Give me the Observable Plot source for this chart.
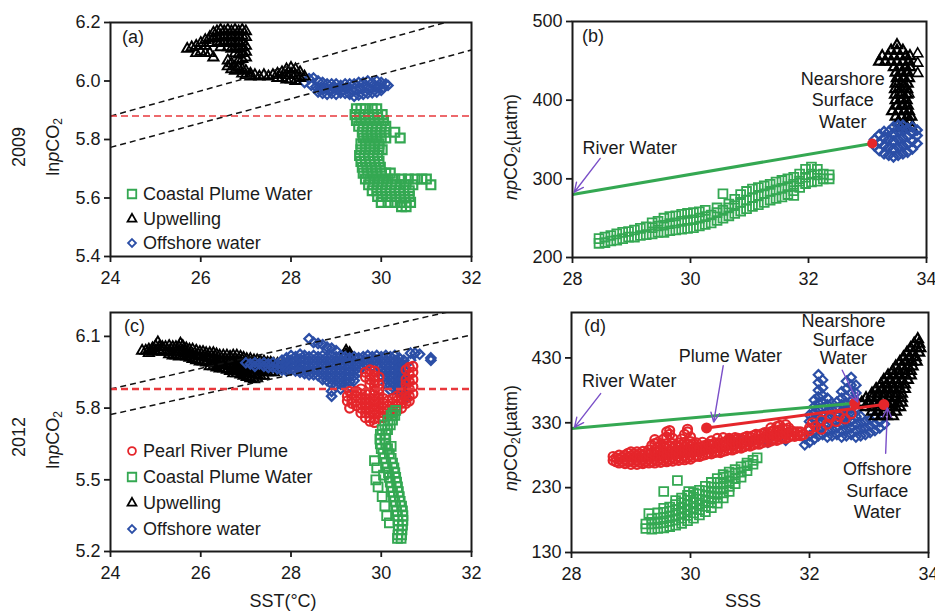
<!DOCTYPE html>
<html><head><meta charset="utf-8">
<script src="https://cdn.jsdelivr.net/npm/d3@7"></script>
<script src="https://cdn.jsdelivr.net/npm/@observablehq/plot@0.6"></script>
<style>
body{margin:0;background:#fff;}
#root{position:relative;width:935px;height:611px;overflow:hidden;font-family:"Liberation Sans",Arial,sans-serif;color:#1a1a1a;background:#fff;}
.lbl{position:absolute;white-space:nowrap;font-size:18px;line-height:1;}
.lbl sub{font-size:12px;vertical-align:-3px;line-height:0;}
.leg{position:absolute;display:flex;align-items:center;white-space:nowrap;font-size:18px;line-height:1;height:22px;}
.leg svg{margin-right:4px;}
</style></head><body><div id="root"></div>
<script>
// ---------------- data ----------------
const xTicksSST = [24, 26, 28, 30, 32];
const xTicksSSS = [28, 30, 32, 34];
const yTicksA = [5.4, 5.6, 5.8, 6.0, 6.2];
const yTicksB = [200, 300, 400, 500];
const yTicksC = [5.2, 5.5, 5.8, 6.1];
const yTicksD = [130, 230, 330, 430];

// Dense clouds are written as columns [x, [y...]] or rows [y, [x...]].
// panel (a) 2009: SST vs lnpCO2
const a_upwellingCols = [[25.7,[6.11]],[25.8,[6.115]],[25.9,[6.12,6.095]],[26.0,[6.13,6.1]],[26.1,[6.14,6.12,6.095]],[26.2,[6.15,6.13,6.095]],[26.28,[6.165,6.145,6.08]],[26.36,[6.17,6.15,6.13]],[26.44,[6.175,6.155,6.135,6.115]],[26.52,[6.17,6.15,6.13]],[26.6,[6.175,6.155,6.135,6.115,6.07,6.05]],[26.68,[6.17,6.15,6.13,6.11,6.06,6.04]],[26.76,[6.175,6.155,6.135,6.115,6.095,6.05,6.035]],[26.84,[6.17,6.15,6.13,6.11,6.09,6.07,6.045]],[26.92,[6.175,6.155,6.135,6.115,6.095,6.075,6.04,6.025]],[27.0,[6.17,6.15,6.12,6.1,6.08,6.035,6.02]],[27.1,[6.025,6.015]],[27.2,[6.02]],[27.3,[6.015]],[27.4,[6.02]],[27.5,[6.015]],[27.6,[6.02]],[27.7,[6.025,6.01]],[27.8,[6.03,6.01]],[27.9,[6.04,6.02,6.005]],[28.0,[6.045,6.025,6.005]],[28.1,[6.04,6.02,6.0]],[28.2,[6.03,6.01]],[28.3,[6.015]]];
const a_offshore = [[28.3,5.995],[28.4,6.008],[28.5,6.01],[28.6,6.0],[28.7,5.995],[28.8,5.99],[28.9,5.99],[29.0,5.99],[29.1,5.985],[29.2,5.99],[29.3,5.99],[29.4,5.99],[29.5,5.995],[29.6,5.995],[29.7,6.0],[29.8,5.995],[29.9,6.0],[30.0,5.995],[30.1,5.99],[30.15,5.985],[28.45,5.985],[28.55,5.98],[28.65,5.975],[28.75,5.975],[28.85,5.97],[28.95,5.975],[29.05,5.97],[29.15,5.97],[29.25,5.975],[29.35,5.97],[29.45,5.97],[29.55,5.975],[29.65,5.98],[29.75,5.975],[29.85,5.98],[29.95,5.98],[30.05,5.978],[28.6,5.962],[28.7,5.958],[28.8,5.955],[28.9,5.958],[29.0,5.955],[29.1,5.96],[29.2,5.958],[29.3,5.955],[29.4,5.948],[29.5,5.952],[29.6,5.955],[29.7,5.958],[29.8,5.96],[29.9,5.962],[30.0,5.968]];
const a_plumeRows = [[5.905,[29.45,29.55,29.65,29.8,29.9]],[5.885,[29.42,29.52,29.62,29.72,29.82,29.92,30.02]],[5.865,[29.45,29.55,29.65,29.75,29.85,29.95,30.05]],[5.845,[29.5,29.6,29.7,29.8,29.9,30.0,30.1]],[5.825,[29.58,29.68,29.78,29.88,29.98,30.08,30.3]],[5.805,[29.6,29.7,29.8,29.9,30.0,30.1,30.42]],[5.785,[29.55,29.65,29.75,29.85,29.95]],[5.765,[29.55,29.65,29.75,29.85,29.95,30.02]],[5.745,[29.52,29.62,29.72,29.82,29.92]],[5.725,[29.55,29.65,29.75,29.85,29.95]],[5.705,[29.58,29.68,29.78,29.88,29.98]],[5.685,[29.6,29.7,29.8,29.9,30.0,30.1,30.2]],[5.665,[29.65,29.75,29.85,29.95,30.05,30.15,30.3,30.45,30.6,30.75,30.9,31.0]],[5.645,[29.72,29.82,29.92,30.02,30.12,30.22,30.32,30.42,30.55,30.7,31.1]],[5.625,[29.8,29.9,30.0,30.1,30.2,30.3,30.4,30.5,30.62]],[5.605,[29.92,30.02,30.12,30.22,30.32,30.42,30.52,30.62]],[5.585,[30.0,30.15,30.3,30.42,30.55,30.65]],[5.57,[30.45,30.55]]];

// panel (b) 2009: SSS vs npCO2
const b_plumeCols = [[28.45,[218,224]],[28.55,[219,226]],[28.65,[221,228]],[28.75,[222,230]],[28.85,[224,232]],[28.95,[226,233]],[29.05,[226,235]],[29.15,[228,237]],[29.25,[229,239]],[29.35,[230,238,244]],[29.45,[232,240,246]],[29.55,[232,241,250]],[29.65,[234,243,252]],[29.75,[235,244,253]],[29.85,[236,246,255]],[29.95,[237,247,256]],[30.05,[238,248,257]],[30.15,[240,250,258]],[30.25,[242,252,260]],[30.35,[244,254]],[30.45,[247,257,263]],[30.55,[250,260,281]],[30.65,[253,263,268]],[30.75,[256,266,274]],[30.85,[259,270,280]],[30.95,[262,273,284]],[31.05,[265,276,287]],[31.15,[267,279,289]],[31.25,[270,281,291]],[31.35,[273,284,293]],[31.45,[275,286,296]],[31.55,[277,288,298]],[31.65,[280,290,300]],[31.75,[279,285,293,302]],[31.85,[289,297,306]],[31.95,[294,302,312]],[32.05,[296,306,315]],[32.15,[297,305,312]],[32.25,[300,306]],[32.35,[300,305]]];
const b_upwellingRows = [[470,[33.5]],[463,[33.4,33.5,33.6]],[456,[33.25,33.35,33.45,33.55,33.65,33.72]],[449,[33.2,33.3,33.4,33.5,33.6,33.7]],[442,[33.45,33.55,33.65,33.72]],[435,[33.48,33.58,33.68]],[428,[33.5,33.6,33.7]],[421,[33.48,33.58,33.68]],[414,[33.47,33.57,33.67]],[407,[33.47,33.57,33.67]],[400,[33.48,33.58,33.66]],[393,[33.5,33.6,33.68]],[386,[33.42,33.52,33.62,33.7]],[379,[33.48,33.58,33.68,33.74]],[372,[33.52,33.62,33.72]],[365,[33.55,33.65,33.75]]];
const b_upwellingOpen = [[33.85,459],[33.85,447],[33.85,434],[33.62,418],[33.7,408]];
const b_offshoreCols = [[33.12,[342,350]],[33.2,[336,346,356]],[33.28,[332,342,352,360]],[33.36,[330,340,350,360]],[33.44,[328,338,348,358,366]],[33.52,[330,340,350,360,368]],[33.6,[332,342,352,362,368]],[33.68,[334,344,354,364]],[33.76,[338,348,358,366]],[33.84,[345,355,362]]];
const b_endpoints = [[33.08,345]];
const b_mixLines = [{x1:28, y1:280, x2:33.08, y2:345, color:"green"}];
const b_arrows = [{x1:28.47, y1:326, x2:28.03, y2:283}];
const b_notes = [{x:28.97, y:341, text:"River Water"}, {x:32.58, y:401, text:"Nearshore\nSurface\nWater"}];

// panel (c) 2012: SST vs lnpCO2
const c_upwellingCols = [[24.7,[6.04]],[24.78,[6.04]],[24.85,[6.045,6.03]],[24.93,[6.05,6.035]],[25.0,[6.06,6.04]],[25.05,[6.075]],[25.08,[6.055,6.04]],[25.15,[6.055,6.035]],[25.22,[6.055,6.035]],[25.3,[6.06,6.04,6.025]],[25.38,[6.055,6.035,6.02]],[25.45,[6.055,6.035,6.02]],[25.52,[6.055,6.035,6.015]],[25.55,[6.07]],[25.6,[6.06,6.04,6.02]],[25.68,[6.05,6.03,6.015]],[25.75,[6.045,6.025,6.01]],[25.82,[6.045,6.025,6.005]],[25.9,[6.04,6.02,6.0]],[25.98,[6.035,6.015,5.995]],[26.05,[6.035,6.015,5.995]],[26.12,[6.03,6.01,5.99]],[26.2,[6.03,6.01,5.99,5.975]],[26.28,[6.03,6.01,5.99,5.975]],[26.35,[6.025,6.005,5.985,5.97]],[26.42,[6.02,6.0,5.98,5.965]],[26.5,[6.02,6.0,5.98,5.965]],[26.58,[6.02,6.0,5.98,5.96]],[26.65,[6.015,5.995,5.975,5.955]],[26.72,[6.02,6.0,5.98,5.96,5.945]],[26.8,[6.02,6.0,5.98,5.96,5.945]],[26.88,[6.015,5.995,5.975,5.955,5.94]],[26.95,[6.01,5.99,5.97,5.95,5.935]],[27.02,[6.005,5.985,5.965,5.945,5.93]],[27.1,[6.005,5.985,5.965,5.945,5.925]],[27.18,[6.0,5.98,5.96,5.94,5.92]],[27.25,[6.0,5.98,5.96,5.94,5.925]],[27.32,[5.995,5.975,5.955,5.935]],[27.4,[5.995,5.975,5.955,5.935]],[27.48,[5.99,5.97,5.95]],[27.55,[5.99,5.97,5.95]],[27.62,[5.985,5.965,5.95]],[27.7,[5.985,5.965]],[27.78,[5.975,5.96]],[27.85,[5.975]],[29.15,[6.015]],[29.22,[6.04,6.025]],[29.3,[6.03,6.02]]];
const c_offshoreCols = [[27.0,[5.99]],[27.1,[5.985]],[27.2,[5.99,5.975]],[27.3,[5.985]],[27.4,[5.99,5.975]],[27.5,[5.985,5.97]],[27.6,[5.99,5.97]],[27.7,[5.985,5.965]],[27.8,[6.0,5.98,5.96]],[27.9,[6.01,5.99,5.97,5.955]],[28.0,[6.02,6.0,5.98,5.96]],[28.1,[6.015,5.995,5.975,5.955]],[28.2,[6.025,6.005,5.985,5.965,5.95]],[28.3,[6.02,6.0,5.98,5.96,5.945]],[28.4,[6.09,6.015,5.995,5.975,5.955,5.94]],[28.5,[6.075,6.02,6.0,5.98,5.96,5.94]],[28.6,[6.07,6.015,5.995,5.975,5.955,5.935]],[28.7,[6.065,6.02,6.0,5.98,5.96,5.94,5.92]],[28.8,[6.055,6.015,5.995,5.975,5.955,5.935,5.915]],[28.9,[6.05,6.02,6.0,5.98,5.96,5.94,5.92,5.9,5.87,5.85]],[29.0,[6.04,6.015,5.995,5.975,5.955,5.935,5.915,5.895]],[29.1,[6.02,6.0,5.98,5.96,5.94,5.92,5.9,5.88]],[29.2,[6.015,5.995,5.975,5.955,5.935,5.915,5.895]],[29.3,[6.01,5.99,5.97,5.95,5.93,5.91,5.89]],[29.4,[6.015,5.995,5.975,5.955,5.935,5.915]],[29.5,[6.01,5.99,5.97,5.95]],[29.6,[6.015,5.995,5.975]],[29.7,[6.02,6.0,5.98]],[29.8,[6.015,5.995,5.975]],[29.9,[6.02,6.0,5.98]],[30.0,[6.015,5.995,5.975,5.955,5.935]],[30.1,[6.02,6.0,5.98,5.96,5.94,5.92,5.9]],[30.2,[6.015,5.995,5.975,5.955,5.935,5.915,5.895,5.875]],[30.3,[6.02,6.0,5.98,5.96,5.94,5.92,5.9,5.88]],[30.4,[6.01,5.99,5.97,5.95,5.93,5.91,5.89,5.87]],[30.5,[6.0,5.98,5.96,5.94,5.92,5.9,5.88,5.86]],[30.55,[5.845]],[30.65,[6.03,6.0]],[30.75,[6.03]],[30.85,[6.025]],[31.1,[6.01,6.0]]];
const c_riverCols = [[29.25,[5.85,5.83]],[29.3,[5.87,5.8]],[29.35,[5.86,5.84,5.82]],[29.45,[5.87,5.85,5.83,5.81]],[29.55,[5.88,5.86,5.84,5.82,5.8,5.78]],[29.65,[5.95,5.93,5.86,5.84,5.82,5.8,5.78,5.76]],[29.75,[5.96,5.94,5.92,5.9,5.86,5.84,5.82,5.8,5.78,5.76,5.745]],[29.85,[5.955,5.935,5.915,5.895,5.875,5.855,5.835,5.815,5.795,5.775,5.755,5.74]],[29.95,[5.93,5.9,5.88,5.86,5.84,5.82,5.8,5.78,5.76]],[30.05,[5.84,5.82,5.8,5.78,5.76]],[30.15,[5.83,5.81,5.79,5.77]],[30.25,[5.84,5.82,5.8,5.78]],[30.35,[5.85,5.83,5.81,5.79]],[30.45,[5.86,5.84,5.82,5.8]],[30.55,[5.96,5.92,5.9,5.88,5.86,5.84,5.82]],[30.62,[5.97,5.94,5.91,5.88,5.85,5.83]],[30.7,[5.975,5.95,5.92,5.89,5.86]]];
const c_plume = [[30.32,5.79],[30.26,5.78],[30.22,5.77],[30.3,5.77],[30.15,5.75],[30.25,5.75],[30.08,5.73],[30.2,5.73],[30.02,5.71],[30.14,5.71],[29.98,5.69],[30.1,5.69],[29.97,5.67],[30.08,5.67],[29.98,5.65],[30.1,5.65],[30.0,5.63],[30.14,5.63],[30.04,5.61],[30.18,5.61],[30.07,5.59],[30.22,5.59],[30.1,5.57],[30.25,5.57],[30.13,5.55],[30.28,5.55],[30.16,5.53],[30.3,5.53],[30.18,5.51],[30.32,5.51],[30.2,5.49],[30.34,5.49],[30.22,5.47],[30.36,5.47],[30.25,5.45],[30.38,5.45],[30.27,5.43],[30.4,5.43],[30.3,5.41],[30.42,5.41],[30.32,5.39],[30.45,5.39],[30.34,5.37],[30.47,5.37],[30.36,5.35],[30.48,5.35],[30.37,5.33],[30.48,5.33],[30.38,5.31],[30.47,5.31],[30.38,5.29],[30.46,5.29],[30.37,5.27],[30.45,5.27],[30.36,5.255],[30.44,5.255],[29.85,5.58],[29.9,5.55],[29.88,5.5],[29.93,5.47],[30.02,5.43],[30.08,5.39],[30.12,5.35],[30.18,5.32],[30.05,5.52],[30.22,5.64]];

// reference lines shared by (a) and (c)
const dashedRefs = [{x1:24, y1:5.88, x2:32, y2:6.225}, {x1:24, y1:5.773, x2:32, y2:6.106}];
const atmLevel = [5.88];

// panel (d) 2012: SSS vs npCO2
const d_riverCols = [[28.7,[272,278]],[28.75,[270,276]],[28.8,[268,274,280]],[28.85,[270,277]],[28.9,[267,273,280]],[28.95,[270,277,283]],[29.0,[266,272,279,285]],[29.05,[269,276,282]],[29.1,[266,272,279,285]],[29.15,[269,276,282]],[29.2,[267,273,280,286]],[29.25,[270,277,283]],[29.3,[268,274,281,288]],[29.35,[270,277,284,295]],[29.4,[268,274,281,288,298,304]],[29.45,[271,278,285,292,300]],[29.5,[269,275,282,289,296]],[29.55,[272,279,286,293,305]],[29.6,[270,276,283,290,298,308,316]],[29.65,[273,280,287,294,312,318]],[29.7,[271,277,284,291,298,306]],[29.75,[274,281,288,295]],[29.8,[272,278,285,292,299]],[29.85,[275,282,289,296,305]],[29.9,[273,279,286,293,300,312]],[29.95,[276,283,290,297,316,320]],[30.0,[274,280,287,294,301,308]],[30.05,[277,284,291,298]],[30.1,[279,286,293,299]],[30.15,[278,285,292]],[30.2,[280,287,294,300]],[30.25,[281,288,295]],[30.3,[283,290,297]],[30.35,[282,289,296,302]],[30.4,[284,291,298]],[30.45,[285,292,299,306]],[30.5,[284,291,298]],[30.55,[286,293,300,307]],[30.6,[287,294,301]],[30.65,[289,296,303,306]],[30.7,[288,295,302]],[30.75,[290,297,304,307]],[30.8,[292,299,306]],[30.85,[291,298,305]],[30.9,[293,300,307]],[30.95,[295,302,309]],[31.0,[294,301,308]],[31.05,[296,303,310]],[31.1,[298,305,312]],[31.15,[297,304,311]],[31.2,[299,306,313]],[31.25,[301,308,315]],[31.3,[300,307,314]],[31.35,[302,309,316,322]],[31.4,[304,311,318]],[31.45,[303,310,317,324]],[31.5,[305,312,319,326]],[31.55,[307,314,321]],[31.6,[306,313,320,327]],[31.65,[308,315,322]],[31.7,[310,317]],[31.75,[309,316]],[31.8,[311,316]],[31.85,[310,316]],[31.9,[312]],[32.0,[322,318]],[32.05,[330]],[32.1,[324]],[32.2,[334,320]],[32.3,[328]],[32.35,[338]],[32.45,[332]],[32.5,[340]],[32.6,[336]],[32.7,[344]]];
const d_plumeCols = [[29.25,[167,174]],[29.3,[190]],[29.35,[166,174,182]],[29.45,[167,175,183,191]],[29.55,[168,176,184,192,198,224]],[29.65,[170,178,186,194,200]],[29.75,[172,180,188,196,204,210]],[29.78,[241]],[29.85,[175,183,191,199,207,214]],[29.95,[179,187,195,203,211,218]],[29.97,[224]],[30.05,[183,191,199,207,215,222]],[30.15,[188,196,204,212,220,226]],[30.25,[193,201,209,217,225,232]],[30.35,[199,207,215,223,231,238]],[30.45,[206,214,222,230,238,244]],[30.55,[214,222,230,238,246,250]],[30.65,[224,232,240,248,254]],[30.75,[236,244,252,258]],[30.85,[246,254,262]],[30.95,[256,264,268]],[31.05,[266,272]],[31.12,[276]]];
const d_offshoreCols = [[30.7,[298]],[30.85,[303]],[31.0,[300]],[31.3,[300]],[31.6,[303]],[31.92,[296,306]],[32.0,[300,310,320,332,342]],[32.08,[305,315,325,335,345,355,365]],[32.15,[310,320,330,340,350,360,370,380,392,404]],[32.22,[312,322,332,342,352,362,372,384,396]],[32.3,[308,318,328,338,348,358,368]],[32.38,[310,320,330,340,350,360]],[32.46,[312,322,332,342,352,362]],[32.54,[308,318,328,338,348,358,368,378]],[32.62,[310,320,330,340,350,360,370,382,394]],[32.7,[312,322,332,342,352,364,376,388,400]],[32.78,[308,318,328,340,352,364,376,388]],[32.86,[310,320,330,340]],[32.94,[312,322,332]],[33.02,[315,325,335]],[33.1,[318,328,340]],[33.18,[322,332]],[33.26,[328]]];
const d_upwellingRows = [[340,[33.1,33.2,33.3,33.4]],[347,[33.05,33.15,33.25,33.35,33.45]],[354,[32.95,33.05,33.15,33.25,33.35,33.45,33.52]],[361,[32.88,32.98,33.08,33.18,33.28,33.38,33.48,33.55]],[368,[32.95,33.05,33.15,33.25,33.35,33.45,33.55]],[375,[33.05,33.15,33.25,33.35,33.45,33.55]],[382,[33.12,33.22,33.32,33.42,33.52,33.6]],[389,[33.2,33.3,33.4,33.5,33.6]],[396,[33.25,33.35,33.45,33.55,33.65]],[403,[33.32,33.42,33.52,33.62,33.7]],[410,[33.4,33.5,33.6,33.7]],[417,[33.45,33.55,33.65,33.73]],[424,[33.52,33.62,33.72,33.8]],[431,[33.58,33.68,33.78]],[438,[33.64,33.74,33.84]],[445,[33.7,33.8,33.86]],[452,[33.76,33.84]],[459,[33.82]]];
const d_endpoints = [[30.27,322],[32.76,360],[33.25,358]];
const d_mixLines = [{x1:28, y1:321, x2:32.76, y2:360, color:"green"}, {x1:30.27, y1:322, x2:33.25, y2:358, color:"red"}];
const d_arrows = [{x1:28.49, y1:375, x2:28.05, y2:323}, {x1:30.55, y1:418, x2:30.39, y2:331}, {x1:32.55, y1:411, x2:32.81, y2:362}, {x1:33.28, y1:283, x2:33.31, y2:353}];
const d_notes = [{x:28.97, y:396, text:"River Water", lh:1.2}, {x:30.67, y:435, text:"Plume Water", lh:1.2}, {x:32.57, y:458, text:"Nearshore\nSurface\nWater", lh:1.03}, {x:33.14, y:227, text:"Offshore\nSurface\nWater", lh:1.2}];

const legendA = [["Coastal Plume Water","square","green"],["Upwelling","triangle","black"],["Offshore water","diamond","blue"]];
const legendC = [["Pearl River Plume","circle","red"],["Coastal Plume Water","square","green"],["Upwelling","triangle","black"],["Offshore water","diamond","blue"]];

// ---------------- rendering ----------------
const fromCols = c => c.flatMap(([x, ys]) => ys.map(y => [x, y]));
const fromRows = r => r.flatMap(([y, xs]) => xs.map(x => [x, y]));
const COLORS = {green:"#34a852", blue:"#2b4ea6", red:"#e5262b", black:"#000", purple:"#7a4fc8"};
const SYMBOL = {square:"square", triangle:"triangle", diamond:"diamond2", circle:"circle"};
const SIZE = {square:5, triangle:3.8, diamond:4.2, circle:4.5};
const INK = "#1a1a1a";
const FONT = '"Liberation Sans", Arial, sans-serif';
const root = document.getElementById("root");

function pts(arr, kind, color, sw = 1.7) {
  return Plot.dot(arr, {x: d => d[0], y: d => d[1], symbol: SYMBOL[kind], r: SIZE[kind], stroke: COLORS[color], fill: "none", strokeWidth: sw});
}
function refMarks(redWidth) {
  return [
    Plot.link(dashedRefs, {x1: "x1", y1: "y1", x2: "x2", y2: "y2", stroke: "#111", strokeWidth: 1.5, strokeDasharray: "6,4", clip: true}),
    Plot.ruleY(atmLevel, {stroke: "#e8383c", strokeWidth: redWidth, strokeDasharray: "7,4"})
  ];
}
function panel(cfg) {
  const svg = Plot.plot({
    width: cfg.w, height: cfg.h,
    marginLeft: cfg.ml, marginRight: cfg.mr, marginTop: cfg.mt, marginBottom: cfg.mb,
    x: {domain: cfg.xd}, y: {domain: cfg.yd},
    style: {fontFamily: FONT, fontSize: "18px", color: INK, background: "none", overflow: "visible"},
    marks: [
      Plot.axisX({ticks: cfg.xt, tickSize: 6, tickPadding: 9, strokeWidth: 1.8, label: null, tickFormat: d => String(d)}),
      Plot.axisY({ticks: cfg.yt, tickSize: 6, tickPadding: 4, strokeWidth: 1.8, label: null, tickFormat: cfg.yf}),
      ...cfg.marks,
      Plot.frame({stroke: INK, strokeWidth: 2})
    ]
  });
  svg.style.position = "absolute";
  svg.style.left = cfg.left + "px";
  svg.style.top = cfg.top + "px";
  root.appendChild(svg);
}
function lines(data) {
  return Plot.link(data, {x1: "x1", y1: "y1", x2: "x2", y2: "y2", stroke: d => COLORS[d.color], strokeWidth: 3});
}
function arrows(data) {
  return Plot.arrow(data, {x1: "x1", y1: "y1", x2: "x2", y2: "y2", stroke: COLORS.purple, strokeWidth: 1.4, headLength: 11, headAngle: 50});
}
function notes(data, lh) {
  return Plot.text(data, {x: "x", y: "y", text: "text", fontSize: 18, fill: INK, lineHeight: lh, stroke: "none"});
}
const f1 = d3.format(".1f");

// (a)
panel({left: 60, top: 0, w: 430, h: 300, ml: 50, mr: 19, mt: 22, mb: 44, xd: [24, 32], yd: [5.4, 6.2], xt: xTicksSST, yt: yTicksA, yf: f1,
  marks: [pts(fromRows(a_plumeRows), "square", "green", 2.2), pts(a_offshore, "diamond", "blue", 2.2), pts(fromCols(a_upwellingCols), "triangle", "black", 1.9), ...refMarks(1.5)]});
// (b)
panel({left: 520, top: 0, w: 415, h: 300, ml: 52, mr: 9, mt: 21, mb: 43, xd: [28, 34], yd: [200, 500], xt: xTicksSSS, yt: yTicksB, yf: d => String(d),
  marks: [pts(fromCols(b_plumeCols), "square", "green", 1.8), lines(b_mixLines), pts(fromRows(b_upwellingRows), "triangle", "black", 2.2), pts(b_upwellingOpen, "triangle", "black", 1.6),
    pts(fromCols(b_offshoreCols), "diamond", "blue", 2.4),
    Plot.dot(b_endpoints, {x: d => d[0], y: d => d[1], r: 5, fill: COLORS.red}), arrows(b_arrows), notes(b_notes, 1.2)]});
// (c)
panel({left: 60, top: 300, w: 430, h: 300, ml: 50, mr: 19, mt: 12, mb: 49, xd: [24, 32], yd: [5.2, 6.2], xt: xTicksSST, yt: yTicksC, yf: f1,
  marks: [pts(fromCols(c_upwellingCols), "triangle", "black", 1.9), pts(fromCols(c_offshoreCols), "diamond", "blue", 2.3), pts(fromCols(c_riverCols), "circle", "red", 2.2), pts(c_plume, "square", "green", 1.9), ...refMarks(2.4)]});
// (d)
panel({left: 520, top: 300, w: 415, h: 300, ml: 51, mr: 7, mt: 12, mb: 48, xd: [28, 34], yd: [130, 500], xt: xTicksSSS, yt: yTicksD, yf: d => String(d),
  marks: [pts(fromCols(d_plumeCols), "square", "green", 1.8), pts(fromCols(d_offshoreCols), "diamond", "blue", 2.2), pts(fromRows(d_upwellingRows), "triangle", "black", 2.2), pts(fromCols(d_riverCols), "circle", "red", 2.2),
    lines(d_mixLines), Plot.dot(d_endpoints, {x: d => d[0], y: d => d[1], r: 5.5, fill: COLORS.red}), arrows(d_arrows),
    ...d_notes.map(n => notes([n], n.lh))]});

// ---------------- text outside plots ----------------
function label(html, x, y, rotate) {
  const el = document.createElement("div");
  el.className = "lbl";
  el.innerHTML = html;
  el.style.left = x + "px";
  el.style.top = y + "px";
  el.style.transform = "translate(-50%,-50%)" + (rotate ? " rotate(-90deg)" : "");
  root.appendChild(el);
}
label("2009", 19, 147, true);
label("2012", 19, 437, true);
label("ln<i>p</i>CO<sub>2</sub>", 53, 147, true);
label("ln<i>p</i>CO<sub>2</sub>", 53, 440, true);
label("<i>np</i>CO<sub>2</sub>(µatm)", 511, 147, true);
label("<i>np</i>CO<sub>2</sub>(µatm)", 511, 438, true);
label("SST(°C)", 283, 601, false);
label("SSS", 743, 601, false);
[["(a)", 122, 37], ["(b)", 582, 36], ["(c)", 124, 326], ["(d)", 584, 326]].forEach(([t, x, y]) => {
  const el = document.createElement("div");
  el.className = "lbl"; el.textContent = t;
  el.style.left = x + "px"; el.style.top = y + "px"; el.style.transform = "translate(0,-50%)";
  root.appendChild(el);
});

const symTypes = {square: [d3.symbolSquare, 72], triangle: [d3.symbolTriangle, 34], diamond: [d3.symbolDiamond2, 40], circle: [d3.symbolCircle, 48]};
function legend(items, x, y0, step) {
  items.forEach(([text, sym, color], i) => {
    const row = document.createElement("div");
    row.className = "leg";
    row.style.left = x + "px";
    row.style.top = (y0 + i * step - 11) + "px";
    const s = d3.create("svg").attr("width", 14).attr("height", 14);
    s.append("path").attr("transform", "translate(7,7)")
      .attr("d", d3.symbol().type(symTypes[sym][0]).size(symTypes[sym][1])())
      .attr("fill", "none").attr("stroke", COLORS[color]).attr("stroke-width", 1.8);
    row.appendChild(s.node());
    const span = document.createElement("span");
    span.textContent = text;
    row.appendChild(span);
    root.appendChild(row);
  });
}
legend(legendA, 125, 194, 24.5);
legend(legendC, 125, 451, 26);
</script></body></html>
